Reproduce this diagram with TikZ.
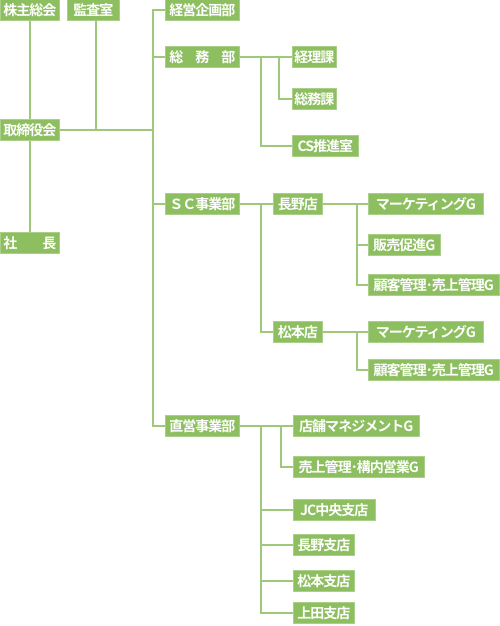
\documentclass[tikz,border=0pt]{standalone}
\usepackage{fontspec}
\setmainfont{Noto Sans CJK JP}[BoldFont={Noto Sans CJK JP Bold}]
\newfontfamily\unitfont{Noto Sans CJK JP Bold}[LetterSpace=-7]
\usetikzlibrary{calc}
\definecolor{boxgreen}{RGB}{141,191,97}
\definecolor{linegreen}{RGB}{158,201,122}
\tikzset{
	unit/.style={anchor=west, fill=boxgreen, draw=boxgreen!75!white, line width=0.6pt, text=white,
		font=\fontsize{14}{15}\unitfont, minimum height=21pt, inner xsep=2pt, inner ysep=0pt},
	link/.style={draw=linegreen, line width=1.5pt}
}

\begin{document}
\begin{tikzpicture}[x=1pt, y=-1pt]
		%%%%% START %%%%%
		\useasboundingbox (0, 0) rectangle (500, 626);
		
		\node[unit, minimum width=59pt] (kabunushi) at (0, 10) {株主総会};
		\node[unit, minimum width=52pt] (kansa) at (67, 10) {監査室};
		\node[unit, minimum width=59pt] (torishimari) at (0, 130) {取締役会};
		\node[unit, minimum width=59pt] (shacho) at (0, 243) {社　　長};
		
		\node[unit, minimum width=74pt] (keiei) at (165, 10) {経営企画部};
		\node[unit, minimum width=74pt] (somu) at (165, 57) {総　務　部};
		\node[unit, minimum width=74pt] (sc) at (165, 204) {ＳＣ事業部};
		\node[unit, minimum width=74pt] (chokuei) at (165, 426) {直営事業部};
		
		\node[unit, minimum width=43pt] (keiri) at (292, 57) {経理課};
		\node[unit, minimum width=43pt] (somuka) at (292, 99) {総務課};
		\node[unit, minimum width=66pt] (cs) at (292, 146) {CS推進室};
		
		\node[unit, minimum width=49pt] (nagano) at (273, 204) {長野店};
		\node[unit, minimum width=49pt] (matsumoto) at (273, 332) {松本店};
		\node[unit, minimum width=115pt] (mkA) at (368, 204) {マーケティングG};
		\node[unit, minimum width=72pt] (hanbai) at (368, 245) {販売促進G};
		\node[unit, minimum width=131pt] (kokyakuA) at (368, 285) {顧客管理･売上管理G};
		\node[unit, minimum width=115pt] (mkB) at (368, 332) {マーケティングG};
		\node[unit, minimum width=131pt] (kokyakuB) at (368, 370) {顧客管理･売上管理G};
		
		\node[unit, minimum width=126pt] (tenpo) at (293, 426) {店舗マネジメントG};
		\node[unit, minimum width=131pt] (uriage) at (293, 467) {売上管理･構内営業G};
		\node[unit, minimum width=82pt] (jc) at (293, 510) {JC中央支店};
		\node[unit, minimum width=61pt] (naganoshi) at (293, 545) {長野支店};
		\node[unit, minimum width=61pt] (matsumotoshi) at (293, 581) {松本支店};
		\node[unit, minimum width=61pt] (uedashi) at (293, 613) {上田支店};
		
		% left column
		\draw[link] (kabunushi.south) -- (torishimari.north);
		\draw[link] (torishimari.south) -- (shacho.north);
		\coordinate (trunk) at (153, 130);
		\coordinate (kansafoot) at (96, 130);
		\draw[link] (kansafoot |- kansa.south) -- (kansafoot);
		\draw[link] (torishimari.east) -- (trunk);
		
		% main trunk
		\draw[link] (keiei.west) -- (153, 10) -- (153, 426) -- (chokuei.west);
		\draw[link] (somu.west) -- (153, 57);
		\draw[link] (sc.west) -- (153, 204);
		
		% somu
		\draw[link] (somu.east) -- (keiri.west);
		\draw[link] (279, 57) |- (somuka.west);
		\draw[link] (261, 57) |- (cs.west);
		
		% sc
		\draw[link] (sc.east) -- (nagano.west);
		\draw[link] (261, 204) |- (matsumoto.west);
		\draw[link] (nagano.east) -- (mkA.west);
		\draw[link] (357, 204) |- (hanbai.west);
		\draw[link] (357, 204) |- (kokyakuA.west);
		\draw[link] (matsumoto.east) -- (mkB.west);
		\draw[link] (357, 332) |- (kokyakuB.west);
		
		% chokuei
		\draw[link] (chokuei.east) -- (tenpo.west);
		\draw[link] (281, 426) |- (uriage.west);
		\draw[link] (261, 426) |- (uedashi.west);
		\draw[link] (261, 510) -- (jc.west);
		\draw[link] (261, 545) -- (naganoshi.west);
		\draw[link] (261, 581) -- (matsumotoshi.west);
		
		%%%%% END %%%%%
	\end{tikzpicture}
\end{document}
